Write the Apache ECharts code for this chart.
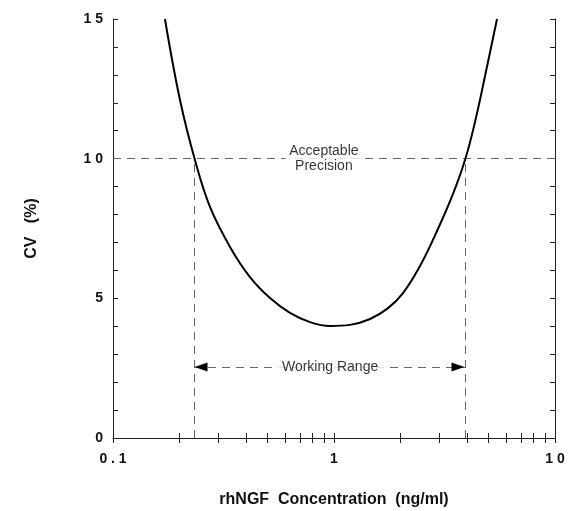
<!DOCTYPE html>
<html>
<head>
<meta charset="utf-8">
<script src="https://cdn.jsdelivr.net/npm/echarts@6/dist/echarts.min.js"></script>
<style>html,body{margin:0;padding:0;background:#fff}#c{width:570px;height:511px}</style>
</head>
<body>
<div id="c"></div>
<script>
// concentration (ng/ml) and CV (%)
const conc = [0.1718, 0.2010, 0.2349, 0.2747, 0.3384, 0.4168, 0.5133, 0.6323, 0.7787, 0.9592, 1.1814, 1.4555, 1.7553, 2.0521, 2.4497, 2.9248, 3.4551, 3.9155, 4.3451, 4.8236, 5.4651];
const cv   = [15.00, 12.10, 9.95, 8.27, 6.84, 5.76, 5.01, 4.48, 4.15, 4.01, 4.05, 4.26, 4.65, 5.19, 6.16, 7.41, 8.74, 9.95, 11.31, 12.96, 15.00];
const xTickValues = [0.1,0.2,0.3,0.4,0.5,0.6,0.7,0.8,0.9,1,2,3,4,5,6,7,8,9,10];
const xLabelValues = [0.1, 1, 10];
const xLabelText = {"0.1": "0 . 1", "1": "1", "10": "1 0"};
const yLabelText = {"0": "0", "5": "5", "10": "1 0", "15": "1 5"};
const precisionLimit = 10;
const rangeLow = 0.2326, rangeHigh = 3.915;
const arrowLevel = 2.54;
const precisionLabelPos = [0.90, 10];
const rangeLabelPos = [0.96, 2.54];

const font = 'Liberation Sans, Arial, Helvetica, sans-serif';
const dash = {color: '#666', type: [8, 6], width: 1};
const axisLine = {show: true, lineStyle: {color: '#222', width: 1}};

const chart = echarts.init(document.getElementById('c'));
chart.setOption({
  animation: false,
  backgroundColor: '#fff',
  grid: {left: 113, right: 15, top: 19, bottom: 73, outerBoundsMode: 'none', containLabel: false},
  xAxis: [{
    type: 'log', min: 0.1, max: 10, logBase: 10,
    name: 'rhNGF  Concentration  (ng/ml)', nameLocation: 'middle', nameGap: 54,
    nameTextStyle: {fontFamily: font, fontWeight: 'bold', fontSize: 16, color: '#111'},
    axisLine: axisLine,
    axisTick: {show: true, inside: true, length: 5, customValues: xTickValues, lineStyle: {color: '#222'}},
    axisLabel: {customValues: xLabelValues, margin: 14, fontFamily: font, fontWeight: 'bold', fontSize: 14, color: '#111',
      formatter: v => xLabelText[String(+v.toFixed(4))] ?? String(v)},
    splitLine: {show: false}
  }, {
    type: 'log', min: 0.1, max: 10, logBase: 10, position: 'top',
    axisLine: axisLine,
    axisTick: {show: true, inside: true, length: 5, customValues: xTickValues, lineStyle: {color: '#222'}},
    axisLabel: {show: false}, splitLine: {show: false}
  }],
  yAxis: [{
    type: 'value', min: 0, max: 15, interval: 5,
    name: 'CV   (%)', nameLocation: 'middle', nameGap: 73, nameRotate: 90,
    nameTextStyle: {fontFamily: font, fontWeight: 'bold', fontSize: 16, color: '#111'},
    axisLine: axisLine,
    axisTick: {show: true, inside: true, length: 5, lineStyle: {color: '#222'}},
    minorTick: {show: true, splitNumber: 5, length: 5, lineStyle: {color: '#222'}},
    axisLabel: {margin: 10, fontFamily: font, fontWeight: 'bold', fontSize: 14, color: '#111',
      formatter: v => yLabelText[String(v)] ?? String(v)},
    splitLine: {show: false}
  }, {
    type: 'value', min: 0, max: 15, interval: 5, position: 'right',
    axisLine: axisLine,
    axisTick: {show: true, inside: true, length: 5, lineStyle: {color: '#222'}},
    minorTick: {show: true, splitNumber: 5, length: 5, lineStyle: {color: '#222'}},
    axisLabel: {show: false}, splitLine: {show: false}
  }],
  series: [{
    type: 'line', smooth: 0.4, symbol: 'none', z: 5,
    data: conc.map((c, i) => [c, cv[i]]),
    lineStyle: {color: '#000', width: 2},
    markLine: {
      silent: true, symbol: 'none', animation: false,
      label: {show: false},
      lineStyle: dash,
      data: [
        [{coord: [0.1, precisionLimit]}, {coord: [10, precisionLimit]}],
        [{coord: [rangeLow, 0]}, {coord: [rangeLow, precisionLimit]}],
        [{coord: [rangeHigh, 0]}, {coord: [rangeHigh, precisionLimit]}],
        [{coord: [rangeLow, arrowLevel]}, {coord: [rangeHigh, arrowLevel]}]
      ]
    },
    markPoint: {
      silent: true, animation: false,
      symbol: 'triangle', symbolSize: [9, 13],
      itemStyle: {color: '#000'},
      label: {show: false},
      data: [
        {coord: [rangeLow, arrowLevel], symbolRotate: 90, symbolOffset: [7, 0]},
        {coord: [rangeHigh, arrowLevel], symbolRotate: -90, symbolOffset: [-7, 0]}
      ]
    }
  }, {
    type: 'scatter', symbolSize: 0, z: 7, silent: true,
    data: [
      {value: precisionLabelPos, label: {formatter: 'Acceptable\nPrecision', padding: [0, 4]}},
      {value: rangeLabelPos, label: {formatter: 'Working Range', padding: [2, 7]}}
    ],
    label: {show: true, position: 'inside', fontFamily: font, fontSize: 14,
      lineHeight: 15, color: '#000', backgroundColor: '#fff', align: 'center'}
  }]
});
</script>
</body>
</html>
